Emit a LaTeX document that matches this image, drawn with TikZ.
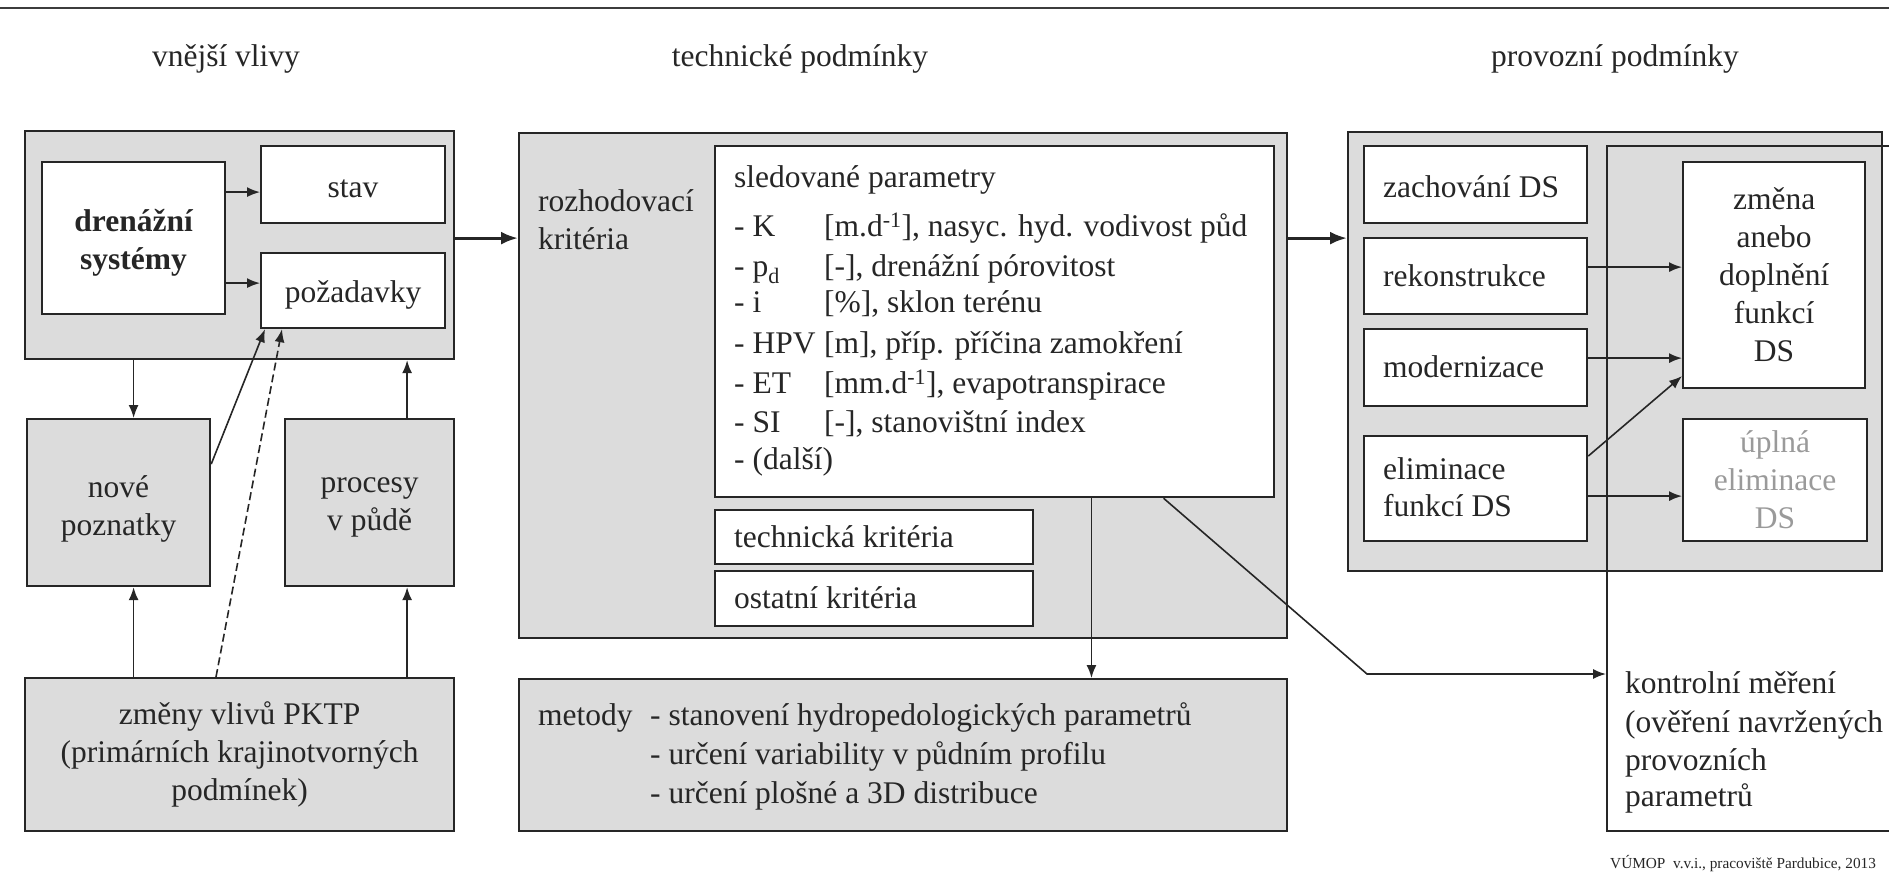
\documentclass[tikz,border=0pt]{standalone}
\usepackage{fontspec}
\setmainfont{Liberation Serif}
\usetikzlibrary{arrows.meta,calc}
\definecolor{boxgray}{HTML}{DCDCDC}
\definecolor{ink}{HTML}{262626}
\definecolor{faded}{HTML}{9A9A9A}

\begin{document}
\begin{tikzpicture}[x=1pt,y=-1pt,
  every node/.style={font=\fontsize{31.5}{38}\selectfont, text=ink},
  frame/.style={draw=ink, line width=2.2pt, inner sep=0pt, anchor=north west},
  graybox/.style={frame, fill=boxgray},
  whitebox/.style={frame, fill=white},
  line/.style={inner sep=0pt, text height=0.7em, text depth=0.22em, anchor=west, yshift=-8pt},
  inner/.style={inner sep=0pt, align=center},
  arr/.style={draw=ink, line width=1.6pt, -{Latex[length=13pt,width=10pt]}},
  bigarr/.style={draw=ink, line width=3pt, -{Latex[length=17pt,width=13pt]}},
]
\useasboundingbox (0,0) rectangle (1889,887);
\clip (0,0) rectangle (1889,887);

% top rule
\draw[ink!90, line width=2.5pt] (0,8) -- (1889,8);

% column headings
\node[line, anchor=center] (h1) at (226,56) {vnější vlivy};
\node[line, anchor=center] (h2) at (800,56) {technické podmínky};
\node[line, anchor=center] (h3) at (1615,56) {provozní podmínky};

% ---------- external influences ----------
\node[graybox, minimum width=429pt, minimum height=228pt] (A) at (24,130) {};
\node[whitebox, minimum width=183pt, minimum height=152pt] (dren) at (41,161) {};
\node[inner, font=\fontsize{31.5}{38}\selectfont\bfseries] (drent) at ($(dren.center)+(0,5)$) {drenážní\\systémy};
\node[whitebox, minimum width=184pt, minimum height=77pt] (stav) at (260,145) {};
\node[inner] (stavt) at ($(stav.center)+(0,4)$) {stav};
\node[whitebox, minimum width=184pt, minimum height=75pt] (poz) at (260,252) {};
\node[inner] (pozt) at ($(poz.center)+(0,4)$) {požadavky};
\node[graybox, minimum width=183pt, minimum height=167pt] (nove) at (26,418) {};
\node[inner] (novet) at ($(nove.center)+(0,6)$) {nové\\poznatky};
\node[graybox, minimum width=169pt, minimum height=167pt] (proc) at (284,418) {};
\node[inner] (proct) at ($(proc.center)+(0,5)$) {procesy\\v půdě};
\node[graybox, minimum width=429pt, minimum height=153pt, align=center] (zmeny) at (24,677)
  {změny vlivů PKTP\\(primárních krajinotvorných\\podmínek)};

% ---------- technical conditions ----------
\node[graybox, minimum width=768pt, minimum height=505pt] (B) at (518,132) {};
\node[line] (rozh1) at (538,201) {rozhodovací};
\node[line] (rozh2) at (538,239) {kritéria};
\node[whitebox, minimum width=559pt, minimum height=351pt] (sled) at (714,145) {};
\node[line] (sledh) at (734,177) {sledované parametry};
\foreach \yy/\sym/\rest [count=\i] in {
  226/{- K}/{[m.d\textsuperscript{-1}], nasyc. hyd. vodivost půd},
  266/{- p\textsubscript{d}}/{[-], drenážní pórovitost},
  302/{- i}/{[\%], sklon terénu},
  343/{- HPV}/{[m], příp. příčina zamokření},
  383/{- ET}/{[mm.d\textsuperscript{-1}], evapotranspirace},
  422/{- SI}/{[-], stanovištní index},
  459/{- (další)}/{}}
  \node[line] (par\i) at (734,\yy) {\makebox[90pt][l]{\sym}\rest};
\node[whitebox, minimum width=318pt, minimum height=54pt] (tech) at (714,509) {};
\node[line] (techt) at (734,537) {technická kritéria};
\node[whitebox, minimum width=318pt, minimum height=55pt] (ost) at (714,570) {};
\node[line] (ostt) at (734,598) {ostatní kritéria};

\node[graybox, minimum width=768pt, minimum height=152pt] (met) at (518,678) {};
\node[line] (mett) at (538,715) {metody};
\node[line] (met1) at (650,715) {- stanovení hydropedologických parametrů};
\node[line] (met2) at (650,754) {- určení variability v půdním profilu};
\node[line] (met3) at (650,793) {- určení plošné a 3D distribuce};

% ---------- operating conditions ----------
\node[graybox, minimum width=534pt, minimum height=439pt] (C) at (1347,131) {};
\node[frame, minimum width=400pt, minimum height=685pt] (kbox) at (1606,145) {};
\node[whitebox, minimum width=223pt, minimum height=77pt] (zach) at (1363,145) {};
\node[line] (zacht) at (1383,187) {zachování DS};
\node[whitebox, minimum width=223pt, minimum height=76pt] (rek) at (1363,237) {};
\node[line] (rekt) at (1383,276) {rekonstrukce};
\node[whitebox, minimum width=223pt, minimum height=77pt] (mod) at (1363,328) {};
\node[line] (modt) at (1383,367) {modernizace};
\node[whitebox, minimum width=223pt, minimum height=105pt] (elim) at (1363,435) {};
\node[line] (elim1) at (1383,469) {eliminace};
\node[line] (elim2) at (1383,506) {funkcí DS};
\node[whitebox, minimum width=182pt, minimum height=226pt, align=center] (zmena) at (1682,161)
  {změna\\anebo\\doplnění\\funkcí\\DS};
\node[whitebox, minimum width=184pt, minimum height=122pt, align=center, text=faded] (upl) at (1682,418)
  {úplná\\eliminace\\DS};
\node[line] (kon1) at (1625,683) {kontrolní měření};
\node[line] (kon2) at (1625,722) {(ověření navržených};
\node[line] (kon3) at (1625,760) {provozních};
\node[line] (kon4) at (1625,796) {parametrů};

\node[inner sep=0pt, anchor=west, font=\fontsize{15.3}{18}\selectfont] (credit) at (1610,864)
  {VÚMOP\ \ v.v.i., pracoviště Pardubice, 2013};

% ---------- connectors ----------
\coordinate (s1) at ($(stav.west)+(0,7.5)$);
\coordinate (p1) at ($(poz.west)+(0,-7.5)$);
\draw[arr] (s1 -| dren.east) -- (s1);
\draw[arr] (p1 -| dren.east) -- (p1);

\coordinate (flow) at ($(A.east)+(0,-7)$);
\draw[bigarr] (flow) -- (flow -| B.west);
\draw[bigarr] (flow -| B.east) -- (flow -| C.west);

\coordinate (a1) at ($(nove.north)+(15,0)$);
\coordinate (a2) at ($(nove.south)+(15,0)$);
\coordinate (a3) at ($(proc.north)+(37.5,0)$);
\coordinate (a4) at ($(proc.south)+(37.5,0)$);
\draw[arr] (a1 |- A.south) -- (a1);
\draw[arr] (a2 |- zmeny.north) -- (a2);
\draw[arr] (a3) -- (a3 |- A.south);
\draw[arr] (a4 |- zmeny.north) -- (a4);

\coordinate (n1) at ($(nove.east)+(0,-38.5)$);
\coordinate (t1) at ($(poz.south west)+(5,0)$);
\draw[arr] (n1) -- (t1);
\coordinate (d1) at ($(zmeny.north west)+(192,0)$);
\coordinate (t2) at ($(poz.south west)+(22,0)$);
\draw[arr, dash pattern=on 8pt off 4pt] (d1) -- (t2);

\coordinate (m1) at ($(sled.south west)!0.6726!(sled.south east)$);
\draw[arr] (m1) -- (m1 |- met.north);

\coordinate (k1) at ($(sled.south west)!0.801!(sled.south east)$);
\coordinate (kbend) at (1367,674);
\draw[arr] (k1) -- (kbend) -- (kbend -| kbox.west);

\coordinate (r1) at ($(rek.east)+(0,-9)$);
\draw[arr] (r1) -- (r1 -| zmena.west);
\coordinate (o1) at ($(mod.east)+(0,-9.5)$);
\draw[arr] (o1) -- (o1 -| zmena.west);
\coordinate (e1) at ($(elim.east)+(0,-32.5)$);
\coordinate (e2) at ($(zmena.west)+(0,101)$);
\draw[arr] (e1) -- (e2);
\coordinate (e3) at ($(elim.east)+(0,7.5)$);
\draw[arr] (e3) -- (e3 -| upl.west);
\end{tikzpicture}
\end{document}
